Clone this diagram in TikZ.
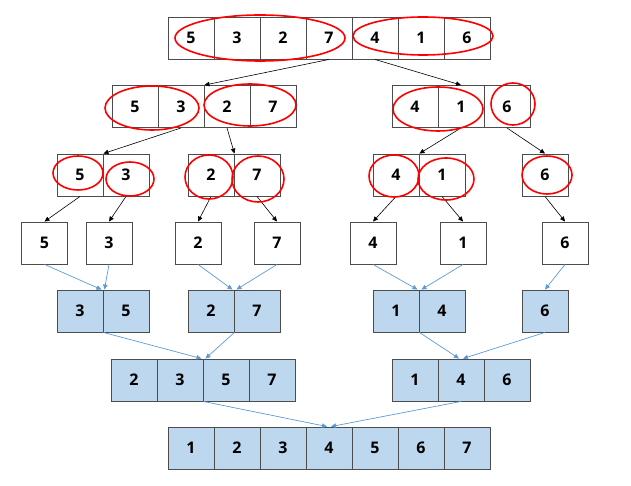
\documentclass[tikz,border=0pt]{standalone}
\usepackage{fontspec}
\setmainfont{Open Sans}
\usetikzlibrary{arrows.meta}

\definecolor{cellblue}{HTML}{BDD7EE}
\definecolor{linkblue}{HTML}{5B9BD5}
\definecolor{penred}{HTML}{FF0000}

\begin{document}
\begin{tikzpicture}[x=1pt, y=-1pt, >={Triangle[length=5pt,width=4.5pt]},
  font=\fontsize{16}{16}\selectfont\bfseries,
  cell/.style={draw=black!70, line width=0.9pt, minimum width=46pt, minimum height=42pt, inner sep=0pt},
  sorted/.style={cell, fill=cellblue},
  split/.style={->, line width=0.6pt},
  merge/.style={->, linkblue, line width=0.7pt},
  scribble/.style={penred, line width=1.6pt}]
  \useasboundingbox (0,0) rectangle (631,486);

  % splitting
  \foreach \v [count=\i] in {5,3,2,7,4,1,6}
    \node[cell] (s\i) at ({145+46*\i},38) {\v};
  \foreach \v/\x [count=\i] in {5/135,3/181,2/227,7/273,4/415,1/461,6/507}
    \node[cell] (u\i) at (\x,106.5) {\v};
  \foreach \v/\x [count=\i] in {5/80,3/126,2/211,7/257,4/396,1/442,6/545}
    \node[cell] (v\i) at (\x,175) {\v};
  \foreach \v/\x [count=\i] in {5/44.5,3/109,2/198,7/277,4/373,1/463,6/565}
    \node[cell] (w\i) at (\x,243) {\v};

  % merging
  \foreach \v/\x [count=\i] in {3/80,5/126,2/211,7/257,1/396,4/442,6/545}
    \node[sorted] (m\i) at (\x,311) {\v};
  \foreach \v/\x [count=\i] in {2/134,3/180,5/226,7/272,1/415,4/461,6/507}
    \node[sorted] (n\i) at (\x,380) {\v};
  \foreach \v [count=\i] in {1,2,3,4,5,6,7}
    \node[sorted] (o\i) at ({145+46*\i},448) {\v};

  \draw[split] (s4.south) -- (u2.north east);
  \draw[split] (s5.south) -- (u6.north);
  \draw[split] (u2.south) -- (v1.north east);
  \draw[split] (u3.south) -- (v3.north east);
  \draw[split] (u6.south) -- (v5.north east);
  \draw[split] (u7.south) -- (v7.north);
  \foreach \i in {1,...,7}
    \draw[split] (v\i.south) -- (w\i.north);

  \draw[merge] (w1.south) -- ([xshift=-2pt]m1.north east);
  \draw[merge] (w2.south) -- ([xshift=1pt]m1.north east);
  \draw[merge] (w3.south) -- ([xshift=-2pt]m3.north east);
  \draw[merge] (w4.south) -- ([xshift=2pt]m3.north east);
  \draw[merge] (w5.south) -- ([xshift=-2pt]m5.north east);
  \draw[merge] (w6.south) -- ([xshift=2pt]m5.north east);
  \draw[merge] (w7.south) -- (m7.north);
  \draw[merge] (m1.south east) -- ([xshift=-2pt]n2.north east);
  \draw[merge] (m3.south east) -- ([xshift=2pt]n2.north east);
  \draw[merge] (m5.south east) -- ([xshift=-2pt]n6.north);
  \draw[merge] (m7.south) -- ([xshift=2pt]n6.north);
  \draw[merge] (n2.south east) -- ([xshift=-2pt]o4.north);
  \draw[merge] (n6.south) -- ([xshift=2pt]o4.north);

  % red pen marks
  \draw[scribble] (260,38) ellipse [x radius=85, y radius=23];
  \draw[scribble] (423,36) ellipse [x radius=70, y radius=19];
  \draw[scribble] (152,108) ellipse [x radius=47, y radius=22];
  \draw[scribble] (250,105) ellipse [x radius=46, y radius=21];
  \draw[scribble] (438,109) ellipse [x radius=45, y radius=22];
  \draw[scribble] (513,104) ellipse [x radius=22, y radius=21];
  \draw[scribble] (78,173) ellipse [x radius=25, y radius=17];
  \draw[scribble] (130,179) ellipse [x radius=24, y radius=17];
  \draw[scribble] (209,177) ellipse [x radius=24, y radius=22];
  \draw[scribble] (258,179) ellipse [x radius=26, y radius=23];
  \draw[scribble] (394,176) ellipse [x radius=25, y radius=21];
  \draw[scribble] (446,179) ellipse [x radius=28, y radius=21];
  \draw[scribble] (547,175) ellipse [x radius=25, y radius=19];
\end{tikzpicture}
\end{document}
